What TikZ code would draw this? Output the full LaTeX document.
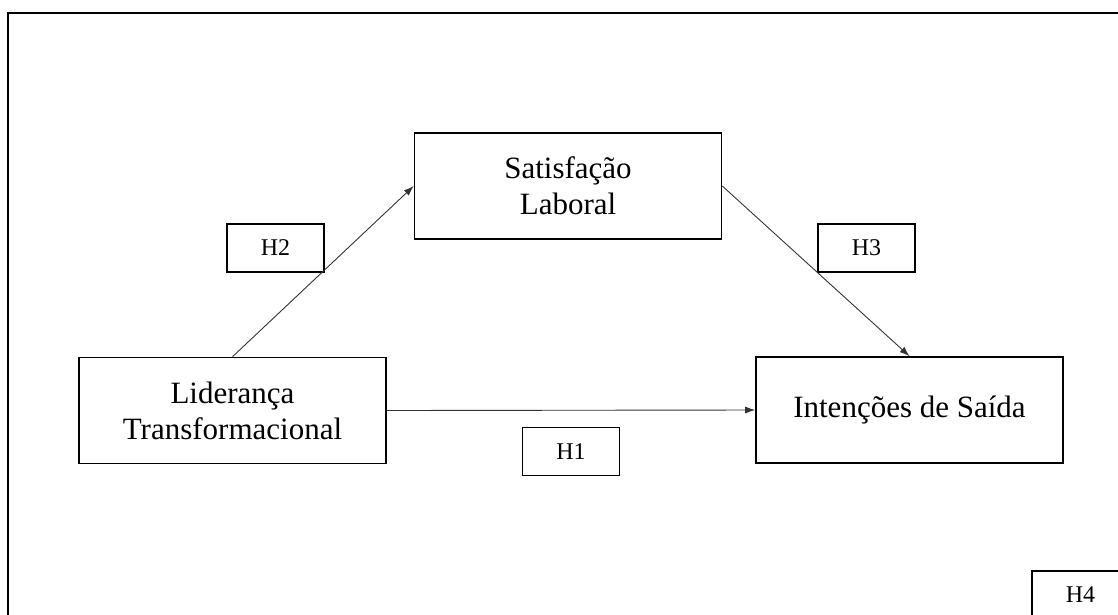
\documentclass[tikz,border=0pt]{standalone}
\usepackage{fontspec}
\setmainfont{Liberation Serif}
\usetikzlibrary{arrows.meta}
\begin{document}
\begin{tikzpicture}[x=1pt,y=-1pt,
  bigbox/.style={draw=black,line width=1.6pt,minimum width=307pt,minimum height=106pt,inner sep=0pt,align=center,font=\fontsize{31}{36}\selectfont},
  hbox/.style={draw=black,line width=1.5pt,minimum width=97pt,minimum height=48pt,inner sep=0pt,font=\fontsize{24}{28}\selectfont},
  link/.style={draw=black!80,line width=0.9pt,-{Latex[length=10pt,width=7pt]}}]
\useasboundingbox (0,0) rectangle (1118,614);
\clip (0,0) rectangle (1118,614);
\draw[line width=1.8pt] (8,620) -- (8,13) -- (1125,13);
\node[bigbox] (sat) at (568,186) {Satisfação\\Laboral};
\node[bigbox] (lid) at (232.5,410.5) {Liderança\\Transformacional};
\node[bigbox] (int) at (909.5,410) {Intenções de Saída};
\node[hbox] (h2) at (275.5,248) {H2};
\node[hbox] (h3) at (866.5,248) {H3};
\node[hbox] (h1) at (571,451.5) {H1};
\node[hbox] (h4) at (1080.5,595) {H4};
\draw[link] (lid.north) -- (sat.west);
\draw[link] (sat.east) -- (int.north);
\draw[link] (lid.east) -- (int.west);
\end{tikzpicture}
\end{document}
